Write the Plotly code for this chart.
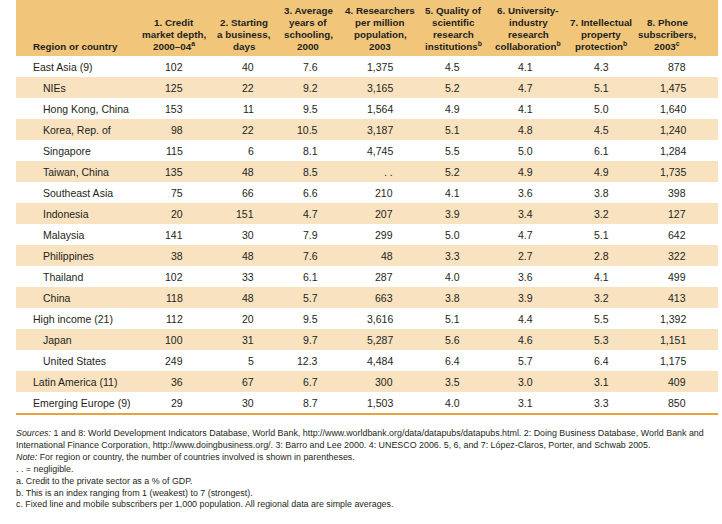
import plotly.graph_objects as go

# ---------------- data ----------------
regions = ["East Asia (9)", "NIEs", "Hong Kong, China", "Korea, Rep. of", "Singapore",
           "Taiwan, China", "Southeast Asia", "Indonesia", "Malaysia", "Philippines",
           "Thailand", "China", "High income (21)", "Japan", "United States",
           "Latin America (11)", "Emerging Europe (9)"]
indent = [0, 1, 1, 1, 1, 1, 1, 1, 1, 1, 1, 1, 0, 1, 1, 0, 0]

credit_depth = [102, 125, 153, 98, 115, 135, 75, 20, 141, 38, 102, 118, 112, 100, 249, 36, 29]
start_days = [40, 22, 11, 22, 6, 48, 66, 151, 30, 48, 33, 48, 20, 31, 5, 67, 30]
school_years = [7.6, 9.2, 9.5, 10.5, 8.1, 8.5, 6.6, 4.7, 7.9, 7.6, 6.1, 5.7, 9.5, 9.7, 12.3, 6.7, 8.7]
researchers = [1375, 3165, 1564, 3187, 4745, None, 210, 207, 299, 48, 287, 663, 3616, 5287, 4484, 300, 1503]
sci_quality = [4.5, 5.2, 4.9, 5.1, 5.5, 5.2, 4.1, 3.9, 5.0, 3.3, 4.0, 3.8, 5.1, 5.6, 6.4, 3.5, 4.0]
uni_collab = [4.1, 4.7, 4.1, 4.8, 5.0, 4.9, 3.6, 3.4, 4.7, 2.7, 3.6, 3.9, 4.4, 4.6, 5.7, 3.0, 3.1]
ip_protect = [4.3, 5.1, 5.0, 4.5, 6.1, 4.9, 3.8, 3.2, 5.1, 2.8, 4.1, 3.2, 5.5, 5.3, 6.4, 3.1, 3.3]
phone_subs = [878, 1475, 1640, 1240, 1284, 1735, 398, 127, 642, 322, 499, 413, 1392, 1151, 1175, 409, 850]

headers = [
    ["1. Credit", "market depth,", "2000\u201304<sup>a</sup>"],
    ["2. Starting", "a business,", "days"],
    ["3. Average", "years of", "schooling,", "2000"],
    ["4. Researchers", "per million", "population,", "2003"],
    ["5. Quality of", "scientific", "research", "institutions<sup>b</sup>"],
    ["6. University-", "industry", "research", "collaboration<sup>b</sup>"],
    ["7. Intellectual", "property", "protection<sup>b</sup>"],
    ["8. Phone", "subscribers,", "2003<sup>c</sup>"],
]
first_header = "Region or country"

footnotes = [
    "<i>Sources:</i> 1 and 8: World Development Indicators Database, World Bank, http://www.worldbank.org/data/datapubs/datapubs.html. 2: Doing Business Database, World Bank and",
    "International Finance Corporation, http://www.doingbusiness.org/. 3: Barro and Lee 2000. 4: UNESCO 2006. 5, 6, and 7: L\u00f3pez-Claros, Porter, and Schwab 2005.",
    "<i>Note:</i> For region or country, the number of countries involved is shown in parentheses.",
    ". . = negligible.",
    "a. Credit to the private sector as a % of GDP.",
    "b. This is an index ranging from 1 (weakest) to 7 (strongest).",
    "c. Fixed line and mobile subscribers per 1,000 population. All regional data are simple averages.",
]

# ---------------- formatting ----------------
def fmt_int(v):
    return ". ." if v is None else f"{v:,}"

def fmt_1(v):
    return f"{v:.1f}"

columns = [
    [fmt_int(v) for v in credit_depth],
    [fmt_int(v) for v in start_days],
    [fmt_1(v) for v in school_years],
    [fmt_int(v) for v in researchers],
    [fmt_1(v) for v in sci_quality],
    [fmt_1(v) for v in uni_collab],
    [fmt_1(v) for v in ip_protect],
    [fmt_int(v) for v in phone_subs],
]

# ---------------- layout constants ----------------
W, H = 722, 524
LEFT, RIGHT = 16, 718
HEADER_BOTTOM = 56
ROW_H = 21
col_right = [183, 254, 318, 393, 460, 533, 609, 686]
head_center = [174, 244, 308, 380, 453, 528, 601, 667]
HEADER_COLOR = "#F1C67A"
SHADE_COLOR = "#F9E2BF"
LINE_COLOR = "#E9A23A"
TEXT_COLOR = "#231F20"
FONT = "Liberation Sans, Arial, sans-serif"

fig = go.Figure()
shapes = []
annotations = []

# header band
shapes.append(dict(type="rect", xref="x", yref="y", x0=LEFT, x1=RIGHT, y0=0, y1=HEADER_BOTTOM,
                   fillcolor=HEADER_COLOR, line_width=0, layer="below"))

# row bands
n = len(regions)
for i in range(n):
    y0 = HEADER_BOTTOM + i * ROW_H
    if i % 2 == 1:
        shapes.append(dict(type="rect", xref="x", yref="y", x0=LEFT, x1=RIGHT, y0=y0, y1=y0 + ROW_H,
                           fillcolor=SHADE_COLOR, line_width=0, layer="below"))
table_bottom = HEADER_BOTTOM + n * ROW_H
shapes.append(dict(type="line", xref="x", yref="y", x0=LEFT, x1=RIGHT, y0=table_bottom + 1, y1=table_bottom + 1,
                   line=dict(color=LINE_COLOR, width=2)))

body_font = dict(family=FONT, size=10.5, color=TEXT_COLOR)
head_font = dict(family=FONT, size=9.8, color=TEXT_COLOR, weight="bold")
note_font = dict(family=FONT, size=8.9, color=TEXT_COLOR)

# header text (bottom aligned, one line per annotation)
LINE_SP = 12.0
HEAD_LAST = 46
annotations.append(dict(x=33, y=HEAD_LAST, text="<b>" + first_header + "</b>", xanchor="left", yanchor="middle",
                        showarrow=False, font=head_font))
for c, lines in enumerate(headers):
    k = len(lines)
    for j, line in enumerate(lines):
        annotations.append(dict(x=head_center[c], y=HEAD_LAST - (k - 1 - j) * LINE_SP, text="<b>" + line + "</b>",
                                xanchor="center", yanchor="middle", showarrow=False, font=head_font))

# body text
for i in range(n):
    yc = HEADER_BOTTOM + i * ROW_H + ROW_H / 2
    annotations.append(dict(x=33 + 10 * indent[i], y=yc, text=regions[i], xanchor="left", yanchor="middle",
                            showarrow=False, font=body_font))
    for c in range(len(columns)):
        annotations.append(dict(x=col_right[c], y=yc, text=columns[c][i], xanchor="right", yanchor="middle",
                                showarrow=False, font=body_font))

# footnotes
NOTE_TOP = 433
NOTE_SP = 11.9
for j, t in enumerate(footnotes):
    annotations.append(dict(x=LEFT, y=NOTE_TOP + j * NOTE_SP, text=t, xanchor="left", yanchor="middle",
                            showarrow=False, font=note_font))

for a in annotations:
    a.update(xref="x", yref="y", borderpad=0, borderwidth=0)

fig.update_layout(
    width=W, height=H,
    margin=dict(l=0, r=0, t=0, b=0),
    paper_bgcolor="white", plot_bgcolor="white",
    xaxis=dict(range=[0, W], visible=False, fixedrange=True),
    yaxis=dict(range=[H, 0], visible=False, fixedrange=True),
    shapes=shapes, annotations=annotations, showlegend=False,
)
fig.write_html("out.html", config={"displayModeBar": False},
               post_script="document.body.style.margin='0';document.body.style.overflow='hidden';")
